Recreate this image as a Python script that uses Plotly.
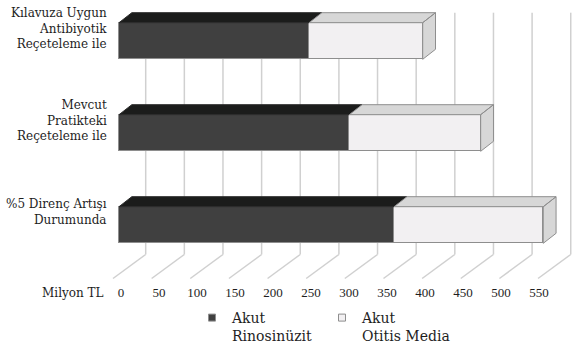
import plotly.graph_objects as go

# ---- data ----
categories = ["Kılavuza Uygun<br>Antibiyotik<br>Reçeteleme ile",
              "Mevcut<br>Pratikteki<br>Reçeteleme ile",
              "%5 Direnç Artışı<br>Durumunda"]
rinosinuzit = [246, 298, 356]
otitis = [147, 170, 193]
tick_values = [0, 50, 100, 150, 200, 250, 300, 350, 400, 450, 500, 550]
series_names = ["Akut<br>Rinosinüzit", "Akut<br>Otitis Media"]
axis_title = "Milyon TL"

# ---- geometry helpers (pixels -> axis units) ----
W, H = 576, 346
ML, MR, MT, MB = 110, 0, 0, 64
px_per_unit = 38.64 / 50.0
zero_px = 119.0
xmin = (ML - zero_px) / px_per_unit
xmax = (W - MR - zero_px) / px_per_unit
cat_px = 92.0
first_center_px = 41.0
plot_h = H - MT - MB
plot_w = W - ML - MR
ytop = -first_center_px / cat_px
ybot = plot_h / cat_px + ytop

def yu(px):
    return px / cat_px + ytop

def ypaper(px):
    return (plot_h - (px - MT)) / plot_h

bar_w = 36.6 / cat_px
dxu = 12.8 / px_per_unit
dyu = 10.0 / cat_px
back_off = 26.7 / px_per_unit
front_off = -6.0 / px_per_unit
wall_top = -bar_w / 2 - dyu
floor_back = yu(254.5)
floor_front = yu(278.5)

# label axis (front scale)
lab_scale = 418.0 / 550.0
lab_zero = 121.0
x2min = (ML - lab_zero) / lab_scale
x2max = (W - MR - lab_zero) / lab_scale

DARK_FRONT = "#404040"
DARK_TOP = "#1b1c1b"
LIGHT_FRONT = "#f2f0f2"
LIGHT_TOP = "#d7d7d7"
EDGE = "#8e8e8e"
GRID = "#d0d0d0"
FONT = "DejaVu Serif"
TXT = "#1e1e1e"

fig = go.Figure()

ypos = list(range(len(categories)))
totals = [a + b for a, b in zip(rinosinuzit, otitis)]

# front faces
fig.add_trace(go.Bar(y=ypos, x=rinosinuzit, orientation="h", width=bar_w,
                     marker=dict(color=DARK_FRONT, line=dict(color=EDGE, width=1)),
                     showlegend=False, hoverinfo="skip"))
fig.add_trace(go.Bar(y=ypos, x=otitis, orientation="h", width=bar_w,
                     marker=dict(color=LIGHT_FRONT, line=dict(color=EDGE, width=1)),
                     showlegend=False, hoverinfo="skip"))

# top / side faces
dx_top, dy_top = [], []
lx, ly = [], []
for i, (a, t) in enumerate(zip(rinosinuzit, totals)):
    top = i - bar_w / 2
    bot = i + bar_w / 2
    dx_top += [0, a, a + dxu, dxu, 0, None]
    dy_top += [top, top, top - dyu, top - dyu, top, None]
    lx += [a, t, t + dxu, a + dxu, a, None]
    ly += [top, top, top - dyu, top - dyu, top, None]
    lx += [t, t, t + dxu, t + dxu, t, None]
    ly += [top, bot, bot - dyu, top - dyu, top, None]

fig.add_trace(go.Scatter(x=dx_top, y=dy_top, mode="lines", fill="toself",
                         fillcolor=DARK_TOP, line=dict(color="#2a2a2a", width=1),
                         showlegend=False, hoverinfo="skip"))
fig.add_trace(go.Scatter(x=lx, y=ly, mode="lines", fill="toself",
                         fillcolor=LIGHT_TOP, line=dict(color=EDGE, width=1),
                         showlegend=False, hoverinfo="skip"))

# legend entries
fig.add_trace(go.Scatter(x=[None], y=[None], mode="markers", name=series_names[0],
                         marker=dict(symbol="square", size=7, color=DARK_FRONT,
                                     line=dict(color=EDGE, width=1))))
fig.add_trace(go.Scatter(x=[None], y=[None], mode="markers", name=series_names[1],
                         marker=dict(symbol="square", size=7, color=LIGHT_FRONT,
                                     line=dict(color=EDGE, width=1))))

# invisible trace for the label axis
fig.add_trace(go.Scatter(x=[tick_values[0]], y=[0], xaxis="x2", mode="markers",
                         marker=dict(opacity=0), showlegend=False, hoverinfo="skip"))

# gridlines (back wall + floor)
shapes = []
for v in tick_values:
    shapes.append(dict(type="line", xref="x", yref="y", layer="below",
                       x0=v + back_off, x1=v + back_off, y0=wall_top, y1=floor_back,
                       line=dict(color=GRID, width=1.5)))
    shapes.append(dict(type="line", xref="x", yref="y", layer="below",
                       x0=v + back_off, x1=v + front_off, y0=floor_back, y1=floor_front,
                       line=dict(color=GRID, width=1.5)))

annotations = []
for i, c in enumerate(categories):
    annotations.append(dict(x=0, xref="paper", y=i, yref="y", text=c,
                            xanchor="right", yanchor="middle", align="right",
                            showarrow=False, yshift=13, xshift=-1,
                            font=dict(family=FONT, size=12, color=TXT)))
annotations.append(dict(x=0, xref="paper", y=ypaper(292.5), yref="paper", text=axis_title,
                        xanchor="right", yanchor="middle", showarrow=False, xshift=-4,
                        font=dict(family=FONT, size=12, color=TXT)))

fig.update_layout(
    width=W, height=H,
    margin=dict(l=ML, r=MR, t=MT, b=MB, autoexpand=False),
    paper_bgcolor="white", plot_bgcolor="white",
    barmode="stack",
    bargap=0,
    xaxis=dict(range=[xmin, xmax], showgrid=False, zeroline=False,
               showticklabels=False, showline=False, ticks=""),
    xaxis2=dict(range=[x2min, x2max], overlaying="x", side="bottom",
                tickmode="array", tickvals=tick_values,
                ticktext=[str(v) for v in tick_values],
                showgrid=False, zeroline=False, showline=False, ticks="",
                ticklabelstandoff=1,
                tickfont=dict(family="Liberation Serif", size=13, color=TXT)),
    yaxis=dict(range=[ybot, ytop], showgrid=False, zeroline=False,
               showticklabels=False, showline=False, ticks=""),
    shapes=shapes,
    annotations=annotations,
    showlegend=True,
    legend=dict(orientation="h", x=(192 - ML) / plot_w, xanchor="left",
                y=ypaper(302), yanchor="top", traceorder="normal",
                valign="top", font=dict(family=FONT, size=14, color=TXT),
                entrywidth=85, entrywidthmode="pixels",
                bgcolor="rgba(0,0,0,0)"),
    font=dict(family=FONT),
)

fig.write_html("out.html")
